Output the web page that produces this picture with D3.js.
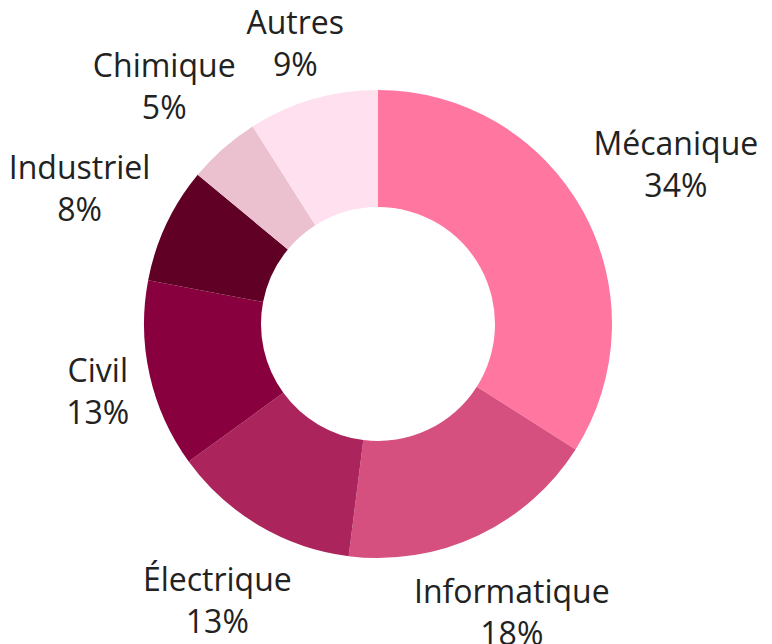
<!DOCTYPE html>
<html><head><meta charset="utf-8">
<script src="https://cdn.jsdelivr.net/npm/d3@7"></script>
<style>html,body{margin:0;padding:0;background:#fff;}svg{display:block;}</style>
</head><body>
<svg id="chart" width="772" height="644"></svg>
<script>
const categories = ["Mécanique","Informatique","Électrique","Civil","Industriel","Chimique","Autres"];
const values = [34,18,13,13,8,5,9];
const colors = ["#ff77a0","#d54f7f","#ac245c","#89003e","#600024","#ebc1d0","#fee0ee"];

const W = 772, H = 644, cx = 378, cy = 324, R = 234, r0 = 117, gap = 16, lineH = 42, fs = 32;
const svg = d3.select("#chart");
const g = svg.append("g").attr("transform", `translate(${cx},${cy})`);
const data = categories.map((c,i)=>({cat:c, value:values[i], color:colors[i]}));
const pie = d3.pie().value(d=>d.value).sort(null);
const arc = d3.arc().innerRadius(r0).outerRadius(R);
const arcs = pie(data);
g.selectAll("path").data(arcs).join("path").attr("d", arc).attr("fill", d=>d.data.color);

const total = d3.sum(values);
const labels = g.selectAll("text.lbl").data(arcs).join("text").attr("class","lbl")
  .attr("text-anchor","middle").attr("font-family","'Open Sans', sans-serif")
  .attr("font-size", fs).attr("fill","#222");
labels.append("tspan").attr("x",0).attr("dy",0).text(d=>d.data.cat);
labels.append("tspan").attr("x",0).attr("dy",lineH).text(d=>Math.round(d.data.value/total*100)+"%");

labels.each(function(d){
  const bb = this.getBBox();
  const mid = (d.startAngle + d.endAngle)/2;
  const ux = Math.sin(mid), uy = -Math.cos(mid);
  const top = -fs, bottom = lineH;
  const ox = bb.x + bb.width/2, oy = (top + bottom)/2;
  const hw = bb.width/2, hh = (bottom - top)/2;
  function nearest(t){
    const bx = ux*t, by = uy*t;
    const nx = Math.max(bx-hw, Math.min(0, bx+hw));
    const ny = Math.max(by-hh, Math.min(0, by+hh));
    return Math.hypot(nx, ny);
  }
  let lo = R, hi = R + 400;
  for (let k=0;k<50;k++){ const m=(lo+hi)/2; if (nearest(m) < R+gap) lo=m; else hi=m; }
  const t = (lo+hi)/2;
  d3.select(this).attr("transform", `translate(${ux*t-ox},${uy*t-oy})`);
});
</script>
</body></html>
